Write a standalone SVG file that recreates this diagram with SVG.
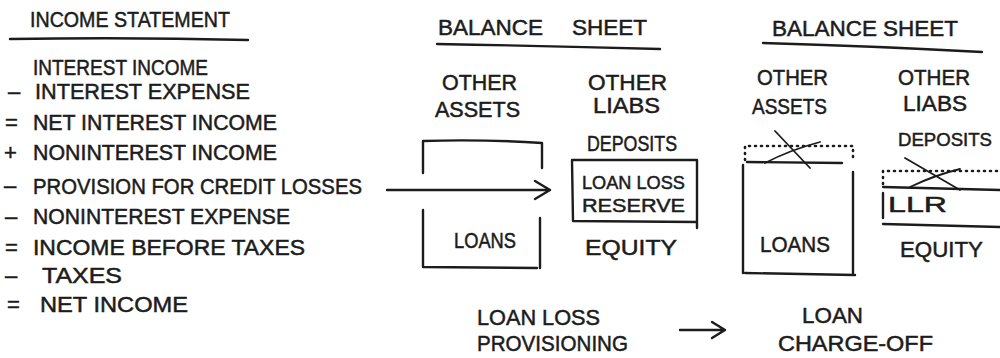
<svg xmlns="http://www.w3.org/2000/svg" width="1000" height="358" viewBox="0 0 1000 358">
<style>
text{font-family:"Liberation Sans","DejaVu Sans",sans-serif;font-size:22px;fill:#1c1c1c;stroke:#1c1c1c;stroke-width:0.5}
text.sm{font-size:19px}
.ln{fill:none;stroke:#1c1c1c;stroke-width:2.4;stroke-linecap:round;stroke-linejoin:round}
.dot{fill:none;stroke:#1c1c1c;stroke-width:2.6;stroke-linecap:round;stroke-dasharray:1 5}
.thin{fill:none;stroke:#1c1c1c;stroke-width:1.8;stroke-linecap:round}
</style>
<rect width="1000" height="358" fill="#ffffff"/>

<g id="income-statement">
<text x="30" y="27" textLength="200" lengthAdjust="spacingAndGlyphs">INCOME STATEMENT</text>
<path class="ln" d="M10,39 Q130,37 248,40"/>
<text x="33" y="75" textLength="175" lengthAdjust="spacingAndGlyphs">INTEREST INCOME</text>
<text x="8" y="99">–</text>
<text x="35" y="99" textLength="215" lengthAdjust="spacingAndGlyphs">INTEREST EXPENSE</text>
<text x="5" y="130">=</text>
<text x="33" y="130" textLength="244" lengthAdjust="spacingAndGlyphs">NET INTEREST INCOME</text>
<text x="4" y="160">+</text>
<text x="33" y="160" textLength="244" lengthAdjust="spacingAndGlyphs">NONINTEREST INCOME</text>
<text x="4" y="193">–</text>
<text x="33" y="194" textLength="329" lengthAdjust="spacingAndGlyphs">PROVISION FOR CREDIT LOSSES</text>
<text x="5" y="224">–</text>
<text x="33" y="224" textLength="257" lengthAdjust="spacingAndGlyphs">NONINTEREST EXPENSE</text>
<text x="5" y="255">=</text>
<text x="33" y="255" textLength="272" lengthAdjust="spacingAndGlyphs">INCOME BEFORE TAXES</text>
<text x="5" y="283">–</text>
<text x="42" y="283" textLength="80" lengthAdjust="spacingAndGlyphs">TAXES</text>
<text x="7" y="312">=</text>
<text x="40" y="312" textLength="148" lengthAdjust="spacingAndGlyphs">NET INCOME</text>
</g>

<g id="balance-sheet-1">
<text x="438" y="35" textLength="105" lengthAdjust="spacingAndGlyphs">BALANCE</text>
<text x="572" y="35" textLength="75" lengthAdjust="spacingAndGlyphs">SHEET</text>
<path class="ln" d="M437,44 Q550,46 660,49"/>
<text x="442" y="90" textLength="75" lengthAdjust="spacingAndGlyphs">OTHER</text>
<text x="435" y="117" textLength="85" lengthAdjust="spacingAndGlyphs">ASSETS</text>
<text x="588" y="90" textLength="79" lengthAdjust="spacingAndGlyphs">OTHER</text>
<text x="593" y="113" textLength="67" lengthAdjust="spacingAndGlyphs">LIABS</text>
<text x="587" y="151" textLength="90" lengthAdjust="spacingAndGlyphs">DEPOSITS</text>
<g id="bs1-loans">
<path class="ln" d="M423,173 L423,141 Q480,139 542,143 L542,168"/>
<path class="ln" d="M423,210 L423,267 L537,268 M540,218 L540,268"/>
<text x="454" y="248" textLength="62" lengthAdjust="spacingAndGlyphs">LOANS</text>
</g>
<g id="bs1-llr">
<path class="ln" d="M572,160 L697,160 L697,228 M697,222 L573,221 L572,160"/>
<text class="sm" x="582" y="189" textLength="103" lengthAdjust="spacingAndGlyphs">LOAN LOSS</text>
<text class="sm" x="582" y="212" textLength="103" lengthAdjust="spacingAndGlyphs">RESERVE</text>
</g>
<text x="585" y="255" textLength="92" lengthAdjust="spacingAndGlyphs">EQUITY</text>
</g>

<g id="balance-sheet-2">
<text x="772" y="36" textLength="186" lengthAdjust="spacingAndGlyphs">BALANCE SHEET</text>
<path class="ln" d="M763,43 Q870,46 982,52"/>
<text x="757" y="85" textLength="71" lengthAdjust="spacingAndGlyphs">OTHER</text>
<text x="752" y="114" textLength="75" lengthAdjust="spacingAndGlyphs">ASSETS</text>
<text x="898" y="85" textLength="72" lengthAdjust="spacingAndGlyphs">OTHER</text>
<text x="903" y="111" textLength="64" lengthAdjust="spacingAndGlyphs">LIABS</text>
<text class="sm" x="898" y="146" textLength="94" lengthAdjust="spacingAndGlyphs">DEPOSITS</text>
<g id="bs2-loans">
<path class="dot" d="M745,160 L745,146 L853,146 L853,162"/>
<path class="ln" d="M747,162 L842,163"/>
<path class="ln" d="M743,165 L743,273 M853,172 L853,273 M745,273 L855,275"/>
<path class="thin" d="M775,131 L810,168 M765,163 Q790,150 820,142"/>
<text x="760" y="252" textLength="70" lengthAdjust="spacingAndGlyphs">LOANS</text>
</g>
<g id="bs2-llr">
<path class="dot" d="M883,184 L883,171 L1000,171"/>
<path class="ln" d="M883,187 L1000,190"/>
<path class="ln" d="M883,193 L883,218 M883,224 L1000,227"/>
<path class="thin" d="M905,158 L960,190 M910,187 Q935,175 960,169"/>
<text x="888" y="212" textLength="59" lengthAdjust="spacingAndGlyphs">LLR</text>
</g>
<text x="900" y="257" textLength="83" lengthAdjust="spacingAndGlyphs">EQUITY</text>
</g>

<g id="captions">
<text x="477" y="325" textLength="123" lengthAdjust="spacingAndGlyphs">LOAN LOSS</text>
<text x="477" y="351" textLength="151" lengthAdjust="spacingAndGlyphs">PROVISIONING</text>
<text x="802" y="323" textLength="61" lengthAdjust="spacingAndGlyphs">LOAN</text>
<text x="778" y="351" textLength="155" lengthAdjust="spacingAndGlyphs">CHARGE-OFF</text>
</g>

<g id="connectors">
<path class="ln" d="M387,190 L550,190 M535,181 L550,190 L535,199"/>
<path class="ln" d="M680,330 L725,330 M712,322 L725,330 L712,338"/>
</g>
</svg>
